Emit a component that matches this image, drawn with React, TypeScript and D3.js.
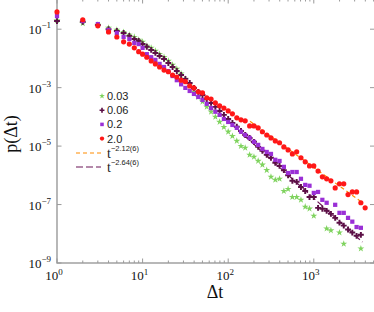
import * as d3 from "d3";
import { useEffect, useRef } from "react";

// time bins (1..10, then log-spaced)
const dt = [
  1, 2, 3, 4, 5, 6, 7, 8, 9, 10,
  11.2, 12.6, 14.1, 15.8, 17.8, 20, 22.4, 25.1, 28.2, 31.6,
  35.5, 39.8, 44.7, 50.1, 56.2, 63.1, 70.8, 79.4, 89.1, 100,
  112, 126, 141, 158, 178, 200, 224, 251, 282, 316,
  355, 398, 447, 501, 562, 631, 708, 794, 891, 1000,
  1122, 1259, 1413, 1585, 1778, 1995, 2239, 2512, 2818, 3162,
  3548, 3981,
];

const p003 = [
  2.0e-1, 1.6e-1, 1.4e-1, 1.1e-1, 9.4e-2, 8.0e-2, 6.4e-2, 5.4e-2, 4.3e-2, 3.7e-2,
  2.7e-2, 2.3e-2, 1.8e-2, 1.4e-2, 1.1e-2, 8.2e-3, 6.0e-3, 4.4e-3, 3.0e-3, 2.0e-3,
  1.15e-3, 7.2e-4, 4.8e-4, 3.3e-4, 2.2e-4, 1.5e-4, 1.0e-4, 6.7e-5, 4.5e-5, 3.1e-5,
  2.2e-5, 1.5e-5, 1.0e-5, 8.7e-6, 5.0e-6, 4.3e-6, 3.1e-6, 2.3e-6, 1.5e-6, 8.9e-7,
  7.0e-7, 7.6e-7, 2.9e-7, 3.4e-7, 1.8e-7, 1.8e-7, 1.45e-7, 8.4e-8, 7.2e-8, 4.1e-8,
  null, null, 1.5e-8, 1.3e-8, null, 1.1e-8, 4.5e-9, null, null, null,
  3.1e-9, null,
];

const p006 = [
  1.9e-1, 1.8e-1, 1.4e-1, 1.0e-1, 8.7e-2, 7.4e-2, 5.9e-2, 4.6e-2, 4.0e-2, 3.1e-2,
  2.5e-2, 1.95e-2, 1.54e-2, 1.22e-2, 9.6e-3, 7.0e-3, 5.1e-3, 3.7e-3, 2.7e-3, 2.0e-3,
  1.45e-3, 9.8e-4, 7.2e-4, 5.6e-4, 4.1e-4, 3.0e-4, 2.2e-4, 1.6e-4, 1.17e-4, 8.5e-5,
  6.2e-5, 4.6e-5, 3.3e-5, 2.4e-5, 1.9e-5, 1.4e-5, 9.4e-6, 6.9e-6, 5.0e-6, 4.0e-6,
  2.7e-6, 2.1e-6, 1.5e-6, 1.0e-6, 6.5e-7, 6.0e-7, 4.0e-7, 2.9e-7, 1.8e-7, 1.8e-7,
  7.7e-8, 7.2e-8, 6.1e-8, 4.8e-8, 3.5e-8, 2.4e-8, 1.9e-8, 1.4e-8, 1.1e-8, 8.5e-9,
  9.2e-9, null,
];

const p02 = [
  2.8e-1, 1.9e-1, 1.5e-1, 9.4e-2, 7.4e-2, 5.4e-2, 4.6e-2, 3.4e-2, 3.1e-2, 2.3e-2,
  1.4e-2, 1.1e-2, 8.9e-3, 6.5e-3, 5.1e-3, 3.7e-3, 2.5e-3, 1.8e-3, 1.3e-3, 9.8e-4,
  7.7e-4, 6.1e-4, 4.8e-4, 3.8e-4, 2.8e-4, 2.0e-4, 1.5e-4, 1.17e-4, 8.5e-5, 6.7e-5,
  5.3e-5, 4.2e-5, 3.1e-5, 2.4e-5, 1.9e-5, 1.4e-5, 1.1e-5, 8.0e-6, 6.3e-6, 5.4e-6,
  3.4e-6, 3.1e-6, 1.95e-6, 1.2e-6, 1.3e-6, 1.3e-6, 7.6e-7, 4.7e-7, 4.4e-7, 2.5e-7,
  2.7e-7, 1.45e-7, 1.15e-7, null, 9.8e-8, 5.2e-8, 5.2e-8, 3.5e-8, 2.6e-8, 1.7e-8,
  1.6e-8, null,
];

const p20 = [
  3.9e-1, 2.1e-1, 1.3e-1, 8.1e-2, 5.4e-2, 3.7e-2, 3.1e-2, 2.3e-2, 1.7e-2, 1.4e-2,
  1.1e-2, 8.2e-3, 6.5e-3, 5.1e-3, 4.0e-3, 3.5e-3, 2.7e-3, 2.3e-3, 1.8e-3, 1.6e-3,
  1.15e-3, 9.8e-4, 7.2e-4, 6.6e-4, 4.5e-4, 4.1e-4, 3.0e-4, 2.4e-4, 2.0e-4, 1.6e-4,
  1.27e-4, 9.3e-5, 7.9e-5, 7.3e-5, 4.9e-5, 4.9e-5, 4.2e-5, 3.1e-5, 2.4e-5, 1.9e-5,
  1.5e-5, 1.3e-5, 9.4e-6, 7.4e-6, 5.4e-6, 6.4e-6, 4.0e-6, 2.9e-6, 2.1e-6, 2.1e-6,
  1.4e-6, 8.9e-7, 7.6e-7, 6.5e-7, 3.7e-7, 5.1e-7, 5.1e-7, 2.2e-7, 2.7e-7, 2.7e-7,
  1.15e-7, 7.7e-8,
];

const seriesLabels = ["0.03", "0.06", "0.2", "2.0"];
const seriesColors = ["#7fd35e", "#5c1046", "#9a2fd6", "#ff1717"];

// power-law fits
const fitExponents = [-2.12, -2.64];
const fitAmplitudes = [4.26, 13.7];
const fitRanges = [
  [180, 3800],
  [150, 3700],
];
const fitColors = ["#ff8c00", "#6b1456"];
const fitDashes = ["4,3", "7,3"];
const fitLabels = ["−2.12(6)", "−2.64(6)"];

const xTickLabels = ["0", "1", "2", "3"];
const yTickLabels = ["−1", "−3", "−5", "−7", "−9"];

const W = 374;
const H = 312;

const App = () => {
  const svgRef = useRef<SVGSVGElement>(null);

  useEffect(() => {
    const svg = d3.select(svgRef.current);
    svg.selectAll("*").remove();

    const x = d3.scaleLog().domain([1, 5330]).range([57, 376]);
    const y = d3.scaleLog().domain([1e-9, 1.08]).range([263, -1]);
    const [x0, x1] = x.range();
    const [yb, yt] = y.range();
    const gray = "#9a9a9a";

    // frame
    svg
      .append("rect")
      .attr("x", x0)
      .attr("y", yt)
      .attr("width", x1 - x0)
      .attr("height", yb - yt)
      .attr("fill", "none")
      .attr("stroke", gray)
      .attr("stroke-width", 1.4);

    // x ticks (bottom + top, inward)
    const xMajor = xTickLabels.map((e) => Math.pow(10, +e));
    const xMinor: number[] = [];
    xMajor.forEach((m) => {
      for (let i = 2; i <= 9; i++) if (m * i < x.domain()[1]) xMinor.push(m * i);
    });
    const tickG = svg.append("g").attr("stroke", gray).attr("stroke-width", 1);
    xMajor.forEach((v) => {
      tickG.append("line").attr("x1", x(v)).attr("x2", x(v)).attr("y1", yb).attr("y2", yb - 4.5);
      tickG.append("line").attr("x1", x(v)).attr("x2", x(v)).attr("y1", yt).attr("y2", yt + 4.5);
    });
    xMinor.forEach((v) => {
      tickG.append("line").attr("x1", x(v)).attr("x2", x(v)).attr("y1", yb).attr("y2", yb - 2.5);
      tickG.append("line").attr("x1", x(v)).attr("x2", x(v)).attr("y1", yt).attr("y2", yt + 2.5);
    });

    // y ticks (left + right)
    const yMajor = yTickLabels.map((e) => Math.pow(10, -+e.replace("−", "")));
    yMajor.forEach((v) => {
      tickG.append("line").attr("x1", x0).attr("x2", x0 + 4.5).attr("y1", y(v)).attr("y2", y(v));
      tickG.append("line").attr("x1", x1).attr("x2", x1 - 6).attr("y1", y(v)).attr("y2", y(v));
    });

    const serif = "'Liberation Serif', 'DejaVu Serif', serif";
    const sans = "'Liberation Sans', Arial, sans-serif";

    // x tick labels
    xTickLabels.forEach((e, i) => {
      const t = svg
        .append("text")
        .attr("x", x(xMajor[i]) - 3)
        .attr("y", 280)
        .attr("text-anchor", "middle")
        .attr("font-family", serif)
        .attr("font-size", 13)
        .attr("fill", "#111");
      t.append("tspan").text("10");
      t.append("tspan").attr("dy", -5).attr("font-size", 9).text(e);
    });

    // y tick labels
    yTickLabels.forEach((e, i) => {
      const t = svg
        .append("text")
        .attr("x", 51)
        .attr("y", y(yMajor[i]) + 5)
        .attr("text-anchor", "end")
        .attr("font-family", serif)
        .attr("font-size", 13)
        .attr("fill", "#111");
      t.append("tspan").text("10");
      t.append("tspan").attr("dy", -6).attr("font-size", 9).text(e);
    });

    // axis titles
    svg
      .append("text")
      .attr("x", 215)
      .attr("y", 298)
      .attr("text-anchor", "middle")
      .attr("font-family", serif)
      .attr("font-size", 18)
      .attr("fill", "#111")
      .text("Δt");
    svg
      .append("text")
      .attr("transform", "translate(17,134) rotate(-90)")
      .attr("text-anchor", "middle")
      .attr("font-family", serif)
      .attr("font-size", 18)
      .attr("fill", "#111")
      .text("p(Δt)");

    // fit lines
    fitExponents.forEach((ex, i) => {
      const pts = fitRanges[i].map((t) => [t, fitAmplitudes[i] * Math.pow(t, ex)]);
      svg
        .append("path")
        .attr("d", d3.line().x((d) => x(d[0])).y((d) => y(d[1]))(pts as [number, number][]))
        .attr("fill", "none")
        .attr("stroke", fitColors[i])
        .attr("stroke-width", 1.2)
        .attr("stroke-dasharray", fitDashes[i]);
    });

    // markers
    const shapeTypes = [d3.symbolStar, d3.symbolCross, d3.symbolSquare, d3.symbolCircle];
    const shapeSizes = [15, 19, 18, 21];
    const allSeries = [p003, p006, p02, p20];
    allSeries.forEach((vals, si) => {
      const pts = dt
        .map((t, i) => ({ t, p: vals[i] }))
        .filter((d) => d.p !== null && d.p !== undefined);
      const sym = d3.symbol().type(shapeTypes[si]).size(shapeSizes[si]);
      svg
        .append("g")
        .selectAll("path")
        .data(pts)
        .enter()
        .append("path")
        .attr("transform", (d) => `translate(${x(d.t)},${y(d.p as number)})`)
        .attr("d", sym() as string)
        .attr("fill", seriesColors[si]);
    });

    // legend
    const leg = svg.append("g");
    seriesLabels.forEach((lab, i) => {
      const cy = 96 + i * 14.2;
      leg
        .append("path")
        .attr("transform", `translate(102,${cy})`)
        .attr("d", d3.symbol().type(shapeTypes[i]).size(shapeSizes[i] * 0.7)() as string)
        .attr("fill", seriesColors[i]);
      leg
        .append("text")
        .attr("x", 107)
        .attr("y", cy + 4)
        .attr("font-family", sans)
        .attr("font-size", 11)
        .attr("fill", "#222")
        .text(lab);
    });
    fitLabels.forEach((lab, i) => {
      const cy = 153 + i * 14;
      leg
        .append("line")
        .attr("x1", 76)
        .attr("x2", 101)
        .attr("y1", cy)
        .attr("y2", cy)
        .attr("stroke", fitColors[i])
        .attr("stroke-width", 1.2)
        .attr("stroke-dasharray", fitDashes[i]);
      const t = leg
        .append("text")
        .attr("x", 107)
        .attr("y", cy + 5)
        .attr("font-family", serif)
        .attr("font-size", 14)
        .attr("fill", "#222");
      t.append("tspan").text("t");
      t.append("tspan")
        .attr("dy", -7)
        .attr("font-family", sans)
        .attr("font-size", 7.5)
        .text(lab);
    });
  }, []);

  return (
    <div>
      <svg
        ref={svgRef}
        width={W}
        height={H}
        style={{ position: "absolute", left: 0, top: 0, background: "#fff" }}
      ></svg>
    </div>
  );
};

export default App;
